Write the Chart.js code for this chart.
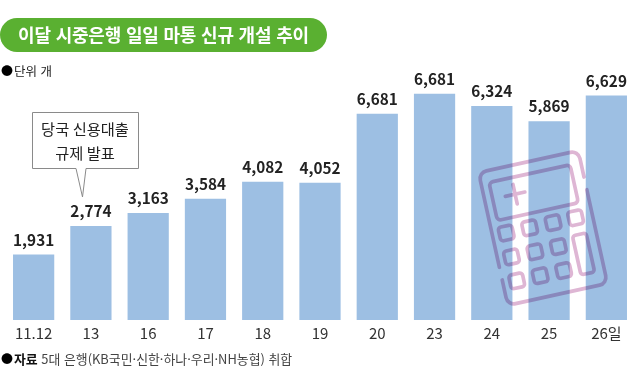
<!DOCTYPE html>
<html lang="ko">
<head>
<meta charset="utf-8">
<title>이달 시중은행 일일 마통 신규 개설 추이</title>
<script src="https://cdn.jsdelivr.net/npm/chart.js@4"></script>
<style>
  html, body { margin: 0; padding: 0; background: #fff; }
  #wrap { position: relative; width: 640px; height: 381px; overflow: hidden; font-family: "Noto Sans CJK KR", "Noto Sans", sans-serif; color: #222; }
  canvas { position: absolute; left: 0; top: 0; }
  #title { position: absolute; left: 0; top: 18px; width: 327px; height: 34px; line-height: 33px; border-radius: 17px; background: #5ab031; color: #fff; font-size: 18px; font-weight: 700; text-align: center; letter-spacing: -0.2px; }
  #unit { position: absolute; left: 1px; top: 62px; font-size: 12.5px; line-height: 18px; }
  #source { position: absolute; left: 1px; top: 350px; font-size: 12.9px; line-height: 18px; color: #444; }
  #source b { color: #111; }
  .dot { color: #000; font-size: 12px; margin-right: 1px; }
</style>
</head>
<body>
<div id="wrap">
  <canvas id="canvas" width="640" height="381"></canvas>
  <div id="title">이달 시중은행 일일 마통 신규 개설 추이</div>
  <div id="unit"><span class="dot">●</span>단위 개</div>
  <div id="source"><span class="dot">●</span><b>자료</b> 5대 은행(KB국민·신한·하나·우리·NH농협) 취합</div>
</div>
<script>
var days = ['11.12', '13', '16', '17', '18', '19', '20', '23', '24', '25', '26일'];
// bar heights as drawn. the 20th bar is shorter than its printed label says
var barValues = [1931, 2774, 3163, 3584, 4082, 4052, 6095, 6681, 6324, 5869, 6629];
var printedLabels = ['1,931', '2,774', '3,163', '3,584', '4,082', '4,052', '6,681', '6,681', '6,324', '5,869', '6,629'];
var calloutLines = ['당국 신용대출', '규제 발표'];

// numbers above the bars
var valueLabels = {
  id: 'valueLabels',
  afterDatasetsDraw: function(chart) {
    var ctx = chart.ctx;
    var bars = chart.getDatasetMeta(0).data;
    ctx.save();
    ctx.font = '700 15.3px "Noto Sans CJK KR", "Noto Sans", sans-serif';
    ctx.fillStyle = '#222';
    ctx.textAlign = 'center';
    ctx.textBaseline = 'alphabetic';
    for (var i = 0; i < bars.length; i++) {
      ctx.fillText(printedLabels[i], bars[i].x, bars[i].y - 9);
    }
    ctx.restore();
  }
};

// speech box pointing at the 13th
var callout = {
  id: 'callout',
  afterDatasetsDraw: function(chart) {
    var ctx = chart.ctx;
    ctx.save();
    ctx.strokeStyle = '#8a8a8a';
    ctx.fillStyle = '#fff';
    ctx.lineWidth = 1;
    ctx.beginPath();
    ctx.moveTo(32.5, 112.5);
    ctx.lineTo(138.5, 112.5);
    ctx.lineTo(138.5, 168.5);
    ctx.lineTo(86, 168.5);
    ctx.lineTo(82.5, 197);
    ctx.lineTo(76, 168.5);
    ctx.lineTo(32.5, 168.5);
    ctx.closePath();
    ctx.fill();
    ctx.stroke();
    ctx.fillStyle = '#222';
    ctx.font = '15.3px "Noto Sans CJK KR", "Noto Sans", sans-serif';
    ctx.textAlign = 'center';
    ctx.textBaseline = 'middle';
    ctx.fillText(calloutLines[0], 85, 129);
    ctx.fillText(calloutLines[1], 85, 153);
    ctx.restore();
  }
};

function roundBox(ctx, x, y, w, h, r) {
  ctx.beginPath();
  ctx.roundRect(x, y, w, h, r);
  ctx.stroke();
}

// the calculator icon laid over the last bars
var calculator = {
  id: 'calculator',
  afterDatasetsDraw: function(chart) {
    var ctx = chart.ctx;
    ctx.save();
    ctx.globalCompositeOperation = 'multiply';
    ctx.translate(543, 228);
    ctx.rotate(-12.4 * Math.PI / 180);
    ctx.strokeStyle = '#deb6d4';
    ctx.lineWidth = 3.7;
    ctx.lineCap = 'round';
    ctx.lineJoin = 'round';

    // body, open in two places
    ctx.beginPath();
    ctx.moveTo(51, -41);
    ctx.lineTo(51, -60);
    ctx.arcTo(51, -68, 43, -68, 8);
    ctx.lineTo(-43, -68);
    ctx.arcTo(-51, -68, -51, -60, 8);
    ctx.lineTo(-51, 29);
    ctx.moveTo(-51, 42);
    ctx.lineTo(-51, 60);
    ctx.arcTo(-51, 68, -43, 68, 8);
    ctx.lineTo(43, 68);
    ctx.arcTo(51, 68, 51, 60, 8);
    ctx.lineTo(51, -28);
    ctx.stroke();

    roundBox(ctx, -43, -56, 83, 39, 4);

    ctx.beginPath();
    ctx.moveTo(-30, -39);
    ctx.lineTo(-10, -39);
    ctx.moveTo(-20, -49);
    ctx.lineTo(-20, -29);
    ctx.stroke();

    var xs = [-37, -13, 11, 34];
    var ys = [-3, 21.5, 46];
    for (var r = 0; r < 3; r++) {
      for (var c = 0; c < 4; c++) {
        if (c === 3 && r > 0) continue;
        roundBox(ctx, xs[c] - 7, ys[r] - 7, 14, 14, 3);
      }
    }
    roundBox(ctx, 27, 14, 14, 40, 3);
    ctx.restore();
  }
};

var ctx = document.getElementById('canvas').getContext('2d');
window.my_chart = new Chart(ctx, {
  type: 'bar',
  data: {
    labels: days,
    datasets: [{
      data: barValues,
      backgroundColor: '#9dbfe3',
      borderWidth: 0,
      categoryPercentage: 1,
      barPercentage: 0.72
    }]
  },
  options: {
    responsive: false,
    animation: false,
    layout: { padding: { left: 5, right: 5, top: 83, bottom: 0 } },
    plugins: { legend: { display: false }, tooltip: { enabled: false }, title: { display: false } },
    scales: {
      x: {
        afterFit: function(scale) { scale.height = 61; },
        grid: { display: false, drawTicks: false },
        border: { display: false },
        ticks: { color: '#333', padding: 4, autoSkip: false, maxRotation: 0, font: { size: 15, family: '"Noto Sans CJK KR", "Noto Sans", sans-serif' } }
      },
      y: {
        display: false,
        min: 0,
        max: 7000
      }
    }
  },
  plugins: [valueLabels, callout, calculator]
});
</script>
</body>
</html>
